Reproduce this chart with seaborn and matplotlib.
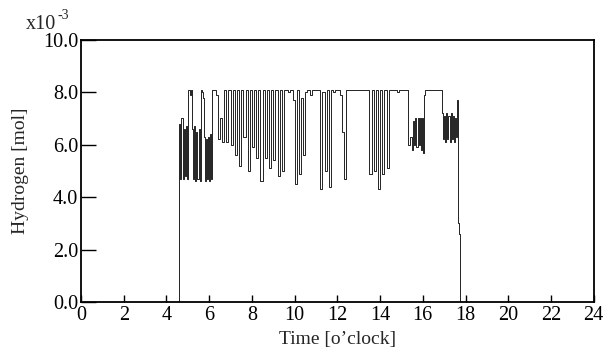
import matplotlib
import numpy as np
import pandas as pd
import seaborn as sns

matplotlib.use('agg')
import matplotlib.pyplot as plt  # noqa

# hydrogen amount [x1e-3 mol]
# part 1: every 3 min from 4.6 h (start-up)
t1_start, t1_step = 4.6, 0.05
h2_part1 = [
    6.8, 4.7, 7.0, 4.7, 6.6, 4.8, 6.7, 4.7,                # 4.60 - 4.95
    8.1, 8.1, 7.9, 8.1, 6.6, 4.7, 6.7, 4.6, 6.5, 4.7,      # 5
    6.6, 4.6, 8.1, 8.0, 7.8, 6.3, 4.6, 6.2, 4.7, 6.3,
    4.6, 6.4, 4.7, 8.1,                                    # 6.00 - 6.15
]
# part 2: every 6 min from 6.2 h to 15.4 h
t2_start, t2_step = 6.2, 0.1
h2_part2 = [
    8.1, 7.9, 6.2, 7.0, 6.1, 8.1, 6.1, 8.1,                # 6.2 - 6.9
    6.0, 8.1, 5.6, 8.1, 5.2, 8.1, 6.3, 8.1, 5.0, 8.1,      # 7
    5.9, 8.1, 5.5, 8.1, 4.6, 8.1, 5.5, 8.1, 5.1, 8.1,      # 8
    5.4, 8.1, 4.8, 8.1, 5.0, 8.1, 8.1, 8.0, 8.1, 7.7,      # 9
    4.5, 8.1, 4.9, 7.8, 5.6, 8.0, 8.1, 7.9, 8.1, 8.1,      # 10
    8.1, 8.1, 4.3, 8.0, 5.0, 8.1, 4.4, 8.1, 8.0, 8.1,      # 11
    8.1, 7.9, 6.5, 4.7, 8.1, 8.1, 8.1, 8.1, 8.1, 8.1,      # 12
    8.1, 8.1, 8.1, 8.1, 8.1, 4.9, 8.1, 5.0, 8.1, 4.3,      # 13
    8.1, 4.9, 8.1, 5.1, 8.1, 8.1, 8.1, 8.1, 8.0, 8.1,      # 14
    8.1, 8.1, 8.1, 6.0, 6.3,                               # 15.0 - 15.4
]
# part 3: every 3 min from 15.5 h until the shutdown
t3_start, t3_step = 15.5, 0.05
h2_part3 = [
    5.8, 6.9, 6.0, 7.0, 5.9, 7.0, 6.0, 7.0, 5.8, 7.0,      # 15.5 - 15.95
    5.7, 7.9, 8.1, 8.1, 8.1, 8.1, 8.1, 8.1, 8.1, 8.1,      # 16
    8.1, 8.1, 8.1, 8.1, 8.1, 8.1, 8.1, 8.1, 7.2, 6.2,
    7.1, 6.1, 7.2, 6.2, 7.1, 6.1, 7.2, 6.2, 7.1, 6.1,      # 17
    7.0, 6.3, 7.7, 3.0, 2.6, 0.0,
]

times = [0.0]
values = [0.0]
for start, step, part in [(t1_start, t1_step, h2_part1),
                          (t2_start, t2_step, h2_part2),
                          (t3_start, t3_step, h2_part3)]:
    times += [round(start + i * step, 2) for i in range(len(part))]
    values += part
times.append(24.0)
values.append(0.0)
df = pd.DataFrame({"time": times, "h2": values})

sns.set_style("ticks")
plt.rcParams['font.family'] = ['Liberation Serif', 'DejaVu Serif']

fig = plt.figure(figsize=(6.14, 3.59), dpi=100)
ax = fig.add_axes([0.132, 0.159, 0.835, 0.730])

sns.lineplot(data=df, x="time", y="h2", ax=ax, estimator=None, sort=False,
             color="black", lw=0.6, drawstyle="steps-post")

ax.set_xlim(0, 24)
ax.set_ylim(0, 10)
ax.set_xticks(np.arange(0, 25, 2))
ax.set_yticks(np.arange(0, 11, 2))
ax.set_yticklabels([f"{v:.1f}" for v in np.arange(0, 11, 2)])
ax.tick_params(axis="both", direction="in", labelsize=14.5, width=1, colors="black")
ax.tick_params(axis="x", length=5, pad=3)
ax.tick_params(axis="y", length=11, pad=2)
for s in ax.spines.values():
    s.set_linewidth(1.3)
    s.set_color("black")

ax.set_xlabel("Time [o\u2019clock]", fontsize=14, labelpad=4)
ax.set_ylabel("Hydrogen [mol]", fontsize=14, labelpad=10)

fig.text(26 / 614, 1 - 29 / 359, "x10", fontsize=14.5, ha="left", va="baseline")
fig.text(57 / 614, 1 - 19 / 359, "-3", fontsize=10, ha="left", va="baseline")

fig.savefig("out.png", dpi=100)
